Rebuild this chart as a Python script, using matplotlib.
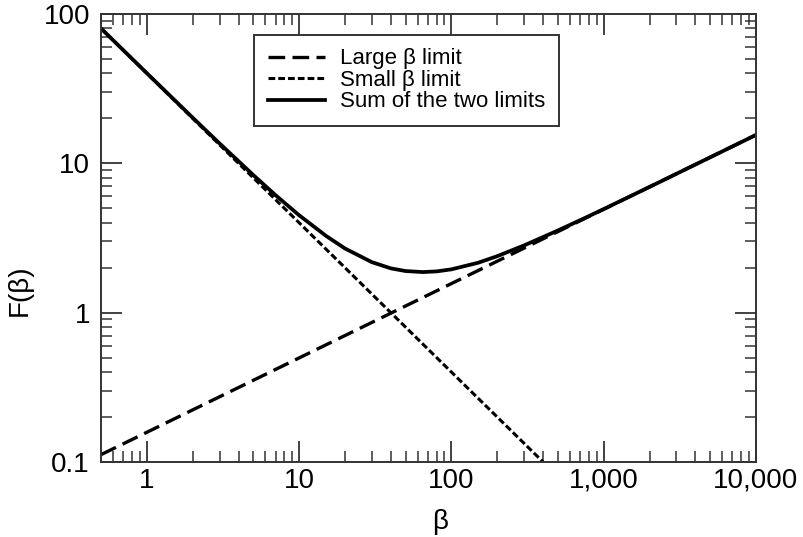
import matplotlib
matplotlib.use('Agg')
import matplotlib.pyplot as plt

plt.rcParams['font.family'] = ['Liberation Sans', 'DejaVu Sans']

# values
large_beta = [0.5, 10000]
large_F = [0.112, 15.5]

small_beta = [0.5, 400]
small_F = [80.0, 0.1]

sum_beta = [0.5, 1, 2, 3, 5, 7, 10, 15, 20, 30, 40, 50, 65, 80, 100,
            150, 200, 300, 500, 700, 1000, 2000, 5000, 10000]
sum_F = [80.1, 40.16, 20.22, 13.6, 8.35, 6.12, 4.49, 3.27, 2.69, 2.18, 1.98,
         1.90, 1.87, 1.89, 1.95, 2.16, 2.39, 2.82, 3.55, 4.16, 4.94, 6.95,
         10.97, 15.5]

x_ticks = [1, 10, 100, 1000, 10000]
x_labels = ['1', '10', '100', '1,000', '10,000']
y_ticks = [0.1, 1, 10, 100]
y_labels = ['0.1', '1', '10', '100']

fig = plt.figure(figsize=(8.04, 5.37), dpi=100)
ax = fig.add_axes([101/804, 1-462/537, 655/804, 448/537])

ax.plot(large_beta, large_F, color='black', linewidth=2.4, linestyle=(0, (5, 2.2)),
        label='Large \u03b2 limit')
ax.plot(small_beta, small_F, color='black', linewidth=2.2, linestyle=(0, (2.2, 1)),
        label='Small \u03b2 limit')
ax.plot(sum_beta, sum_F, color='black', linewidth=2.7, linestyle='-',
        label='Sum of the two limits')

ax.set_xscale('log')
ax.set_yscale('log')
ax.set_xlim(0.5, 10000)
ax.set_ylim(0.1, 100)
ax.set_xticks(x_ticks)
ax.set_xticklabels(x_labels)
ax.set_yticks(y_ticks)
ax.set_yticklabels(y_labels)

ax.tick_params(which='both', direction='in', top=True, right=True, color='#333333')
ax.tick_params(which='major', length=15, width=1.3, labelsize=20)
ax.tick_params(axis='x', which='major', pad=4)
ax.tick_params(axis='y', which='major', pad=8)
ax.tick_params(which='minor', length=8, width=1.1)
for s in ax.spines.values():
    s.set_color('#333333')
    s.set_linewidth(1.4)

ax.set_xlabel('\u03b2', fontsize=20)
ax.set_ylabel('F(\u03b2)', fontsize=20)
ax.xaxis.set_label_coords(0.518, -0.105)
ax.yaxis.set_label_coords(-0.104, 0.384)

leg = ax.legend(loc='upper left', bbox_to_anchor=(0.234, 0.953), borderaxespad=0,
                fontsize=16, fancybox=False, framealpha=1, handlelength=2.6,
                handletextpad=0.68, labelspacing=0.02, borderpad=0.6)
leg.get_frame().set_edgecolor('#333333')
leg.get_frame().set_linewidth(1.4)

plt.savefig('out.png')
